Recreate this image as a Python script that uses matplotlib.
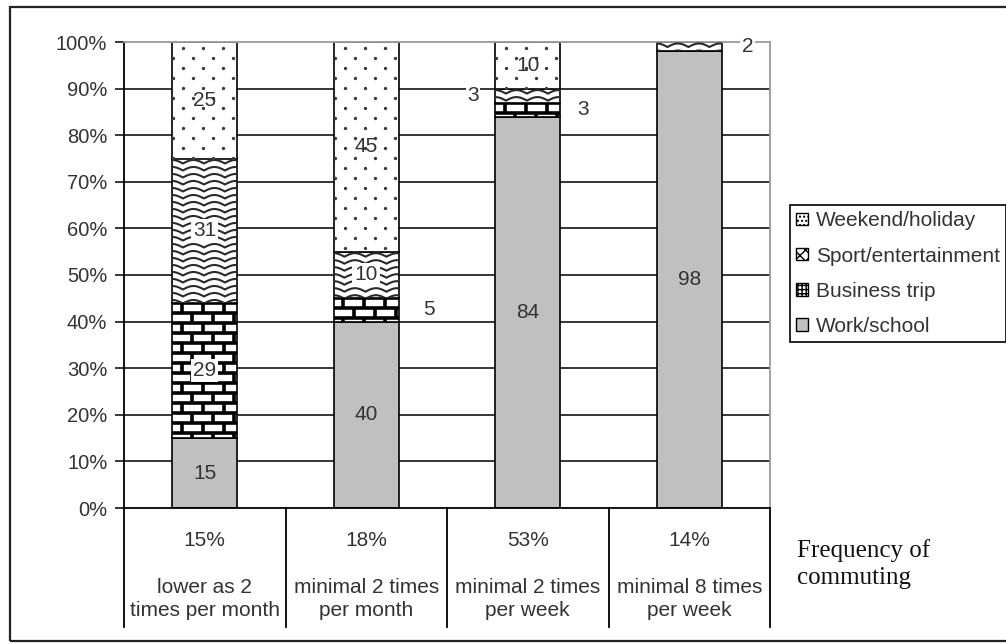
import matplotlib.pyplot as plt
import numpy as np
from matplotlib.collections import LineCollection
from matplotlib.patches import Patch, Rectangle

plt.rcParams['font.family'] = ['Liberation Sans', 'DejaVu Sans']

# data
shares = ['15%', '18%', '53%', '14%']
groups = [
    'lower as 2\ntimes per month',
    'minimal 2 times\nper month',
    'minimal 2 times\nper week',
    'minimal 8 times\nper week',
]
work_school = [15, 40, 84, 98]
business_trip = [29, 5, 3, 0]
sport_entertainment = [31, 10, 3, 2]
weekend_holiday = [25, 45, 10, 0]
y_ticks = list(range(0, 101, 10))

# labels that sit beside the bar instead of inside: (bar, series) -> x shift
outside = {(1, 1): 0.39, (2, 1): 0.34, (2, 2): -0.34, (3, 2): 0.36}

text_col = '#333333'

fig = plt.figure(figsize=(10.06, 6.43), dpi=100)
ax = fig.add_axes([124 / 1006, 135 / 643, 646 / 1006, 466 / 643])
ax.set_xlim(-0.5, 3.5)
ax.set_ylim(0, 100)

# pixel scale of the data units, used for the hand made textures
p0 = ax.transData.transform((0, 0))
p1 = ax.transData.transform((1, 1))
sx, sy = p1[0] - p0[0], p1[1] - p0[1]


def wavy(ax, rect):
    x0, y0 = rect.get_x(), rect.get_y()
    w, h = rect.get_width(), rect.get_height()
    if h <= 0:
        return
    step, amp, period = 7 / sy, 3.5 / sy, 21 / sx
    xs = np.linspace(x0, x0 + w, 300)
    segs = []
    for base in np.arange(y0 + h - amp - 1.5 / sy, y0 - step, -step):
        ys = base + amp * np.abs(np.sin(np.pi * (xs - x0 - period / 2) / period))
        segs.append(np.column_stack([xs, ys]))
    lc = LineCollection(segs, colors='#2a2a2a', linewidths=1.5, zorder=3)
    ax.add_collection(lc)
    lc.set_clip_path(rect)


def bricks(ax, rect):
    x0, y0 = rect.get_x(), rect.get_y()
    w, h = rect.get_width(), rect.get_height()
    if h <= 0:
        return
    row, brick = 10 / sy, 21 / sx
    ys = np.arange(y0 + h, y0 - row, -row)
    segs = [[(x0, y), (x0 + w, y)] for y in ys]
    for k, y in enumerate(ys[:-1]):
        off = brick * 0.5 if k % 2 else 0.0
        for xv in np.arange(x0 + off + brick * 0.45, x0 + w, brick):
            segs.append([(xv, y), (xv, y - row)])
    lc = LineCollection(segs, colors='black', linewidths=2.6, zorder=3)
    ax.add_collection(lc)
    lc.set_clip_path(rect)


def dots(ax, rect):
    x0, y0 = rect.get_x(), rect.get_y()
    w, h = rect.get_width(), rect.get_height()
    if h <= 0:
        return
    col, row = 20 / sx, 10 / sy
    px, py = [], []
    for k, y in enumerate(np.arange(y0 + h - 6 / sy, y0, -row)):
        start = x0 + (11 / sx if k % 2 == 0 else 1 / sx)
        for xv in np.arange(start, x0 + w, col):
            px.append(xv)
            py.append(y)
    ln, = ax.plot(px, py, ls='none', marker='o', ms=2.4, mew=0,
                  color='#3a3a3a', zorder=3)
    ln.set_clip_path(rect)


# grid and frame
for v in y_ticks[1:-1]:
    ax.axhline(v, color='black', lw=1.1, zorder=0)
for s in ['top', 'right']:
    ax.spines[s].set_color('#9a9a9a')
    ax.spines[s].set_linewidth(1.3)
for s in ['left', 'bottom']:
    ax.spines[s].set_color('black')
    ax.spines[s].set_linewidth(1.3)

ax.set_xticks([])
ax.set_yticks(y_ticks)
ax.set_yticklabels([f'{v}%' for v in y_ticks])
ax.tick_params(axis='y', length=6.5, width=1.1, pad=5.5, labelsize=14.5,
               labelcolor=text_col)

x = np.arange(len(shares))
series = [
    (work_school, '#c0c0c0', None),
    (business_trip, 'white', bricks),
    (sport_entertainment, 'white', wavy),
    (weekend_holiday, 'white', dots),
]
bottom = np.zeros(len(x))
for j, (vals, fc, texture) in enumerate(series):
    vals = np.array(vals, dtype=float)
    bars = ax.bar(x, vals, 0.4, bottom=bottom, facecolor=fc,
                  edgecolor='black', lw=1.2, zorder=2)
    for i, rect in enumerate(bars):
        if texture is not None:
            texture(ax, rect)
        if vals[i] <= 0:
            continue
        yc = bottom[i] + vals[i] / 2
        if (i, j) in outside:
            ax.text(i + outside[(i, j)], yc, f'{vals[i]:.0f}', ha='center',
                    va='center', fontsize=15, color=text_col, zorder=4,
                    bbox=dict(facecolor='white', edgecolor='none', pad=1))
        else:
            box = None if j in (0, 3) else dict(facecolor='white',
                                                edgecolor='none', pad=1.5)
            ax.text(i, yc, f'{vals[i]:.0f}', ha='center', va='center',
                    fontsize=15, color=text_col, zorder=4, bbox=box)
    bottom += vals

# table below the axis
for xv in np.arange(-0.5, 4.0, 1.0):
    ax.plot([xv, xv], [0, -25.5], color='black', lw=1.3, clip_on=False)
for i in x:
    ax.text(i, -6.9, shares[i], ha='center', va='center', fontsize=15,
            color=text_col, clip_on=False)
    ax.text(i, -19.5, groups[i], ha='center', va='center', fontsize=15,
            color=text_col, linespacing=1.3, clip_on=False)

fig.text(797 / 1006, 1 - 564 / 643, 'Frequency of\ncommuting',
         family=['Liberation Serif', 'DejaVu Serif'], fontsize=18,
         va='center', ha='left', color='#111111', linespacing=1.25)

handles = [
    Patch(facecolor='white', edgecolor='black', hatch='....'),
    Patch(facecolor='white', edgecolor='black', hatch='xxx'),
    Patch(facecolor='white', edgecolor='black', hatch='++++'),
    Patch(facecolor='#c0c0c0', edgecolor='black'),
]
labels = ['Weekend/holiday', 'Sport/entertainment', 'Business trip', 'Work/school']
leg = fig.legend(handles, labels, loc='upper left',
                 bbox_to_anchor=(790 / 1006, 1 - 205 / 643), frameon=True,
                 fancybox=False, edgecolor='black', framealpha=1, fontsize=15,
                 handlelength=0.55, handleheight=0.55, handletextpad=0.4,
                 labelspacing=0.78, borderpad=0.3, borderaxespad=0)
leg.get_frame().set_linewidth(1.2)
for t in leg.get_texts():
    t.set_color(text_col)

# outer frame round the whole picture
fig.add_artist(Rectangle((10 / 1006, 2 / 643), 1.0, 1 - 9 / 643,
                         transform=fig.transFigure, fill=False,
                         edgecolor='#222222', lw=1.6))

fig.savefig('out.png', dpi=100)
